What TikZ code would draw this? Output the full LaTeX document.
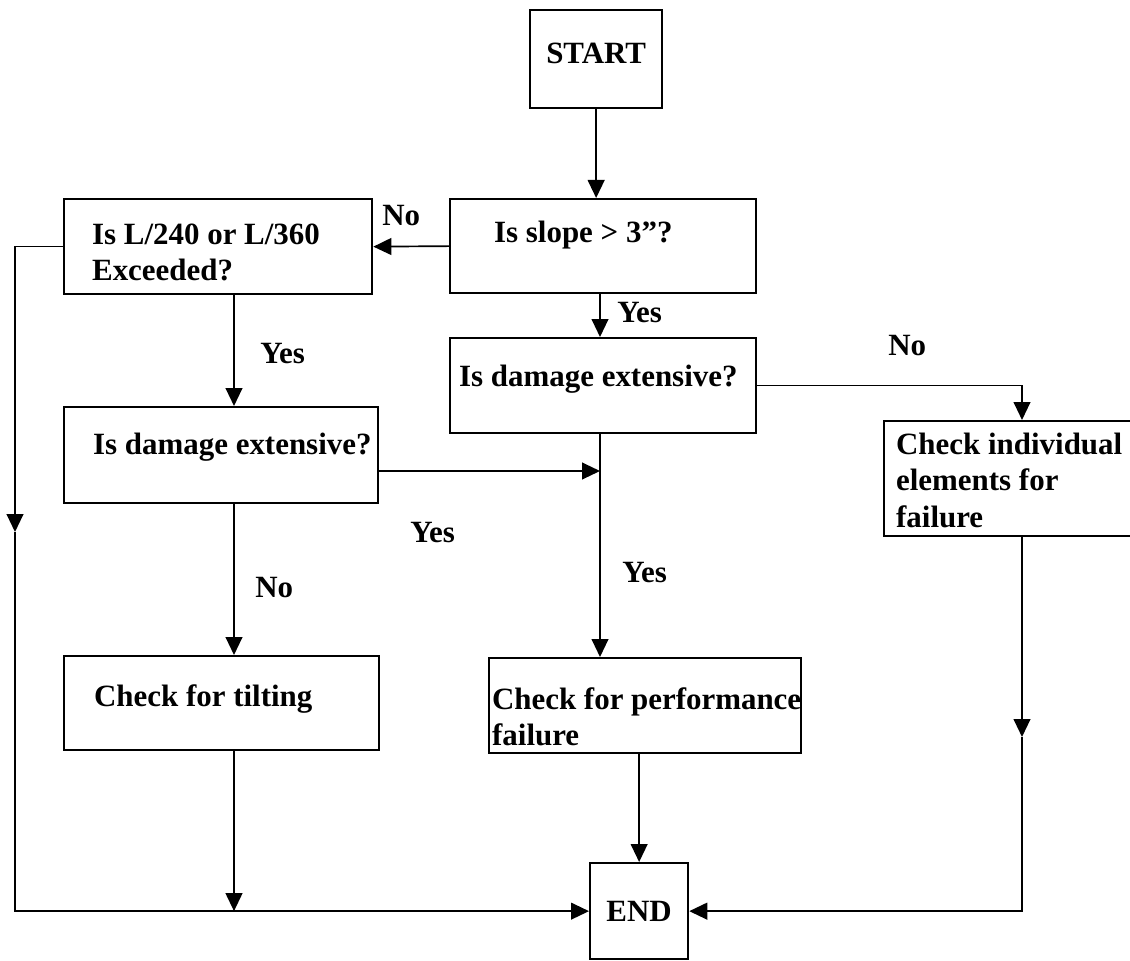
\documentclass[tikz,border=0pt]{standalone}
\usepackage{fontspec}
\setmainfont{Liberation Serif}
\usetikzlibrary{arrows.meta}
\tikzset{
  fbox/.style={draw, line width=1.6pt, anchor=north west, align=left,
    inner xsep=0pt, inner ysep=0pt, font=\fontsize{22}{26}\selectfont\bfseries},
  lpad/.style={execute at begin node={\leftskip=#1\rightskip=0pt plus 1fil\parfillskip=0pt plus 1fil\hyphenpenalty=10000\spaceskip=0pt}},
  lbl/.style={anchor=base west, inner sep=0pt, font=\fontsize{22}{26}\selectfont\bfseries},
  arr/.style={line width=1.2pt, -{Triangle[width=0.42cm,length=0.45cm]}},
  ln/.style={line width=1.2pt}
}
\begin{document}
\begin{tikzpicture}[x=0.025cm, y=-0.025cm]
  \useasboundingbox (0,0) rectangle (1130,960);
  \node[fbox, align=center, text width=3.3cm, text height=1.325cm, text depth=1.125cm] (start) at (529,9) {START};
  \node[fbox, text width=7.65cm, lpad=1.1cm, text height=1.075cm, text depth=1.275cm] (slope) at (449,198) {Is slope > 3”?};
  \node[fbox, text width=7.7cm, lpad=0.7cm, text height=1.125cm, text depth=1.25cm] (lchk) at (63,198) {Is L/240 or L/360\\Exceeded?};
  \node[fbox, text width=7.65cm, lpad=0.225cm, text height=1.2cm, text depth=1.175cm] (dmgA) at (449,337) {Is damage extensive?};
  \node[fbox, text width=7.85cm, lpad=0.725cm, text height=1.175cm, text depth=1.225cm] (dmgB) at (63,406) {Is damage extensive?};
  \node[fbox, text width=6.5cm, lpad=0.3cm, text height=0.825cm, text depth=2.05cm] (indiv) at (883,420) {Check individual\\elements for\\failure};
  \node[fbox, text width=7.875cm, lpad=0.75cm, text height=1.25cm, text depth=1.1cm] (tilt) at (63,655) {Check for tilting};
  \node[fbox, text width=7.8cm, lpad=0.075cm, text height=1.275cm, text depth=1.1cm] (perf) at (488,657) {Check for performance\\failure};
  \node[fbox, align=center, text width=2.45cm, text height=1.45cm, text depth=0.95cm] (endn) at (589,862) {END};

  \node[lbl] (noA) at (382,225) {No};
  \node[lbl] (yesA) at (260,363) {Yes};
  \node[lbl] (yesB) at (617,322) {Yes};
  \node[lbl] (noB) at (888,355) {No};
  \node[lbl] (yesC) at (410,542) {Yes};
  \node[lbl] (yesD) at (622,582) {Yes};
  \node[lbl] (noC) at (255,597) {No};

  \coordinate (colL) at (234,0);
  \coordinate (colM) at (600,0);
  \coordinate (colR) at (1022,0);
  \coordinate (rowY) at (0,471);
  \coordinate (midL) at (15,532);
  \coordinate (midR) at (1022,737);

  \draw[arr] (start.south) -- (start.south |- slope.north);
  \draw[arr] (slope.west) -- (lchk.east);
  \draw[arr] (slope.south -| colM) -- (dmgA.north -| colM);
  \draw[arr] (lchk.south -| colL) -- (dmgB.north -| colL);
  \draw[arr] (dmgB.south -| colL) -- (tilt.north -| colL);
  \draw[arr] (dmgB.east |- rowY) -- (colM |- rowY);
  \draw[arr] (dmgA.south -| colM) -- (perf.north -| colM);
  \draw[arr] (dmgA.east) -| (colR |- indiv.north);
  \draw[arr] (lchk.west) -| (midL);
  \draw[arr] (midL) |- (endn.west);
  \draw[arr] (tilt.south -| colL) -- (colL |- endn.west);
  \draw[arr] (perf.south -| endn.north) -- (endn.north);
  \draw[arr] (indiv.south -| colR) -- (midR);
  \draw[arr] (midR) |- (endn.east);
\end{tikzpicture}
\end{document}
